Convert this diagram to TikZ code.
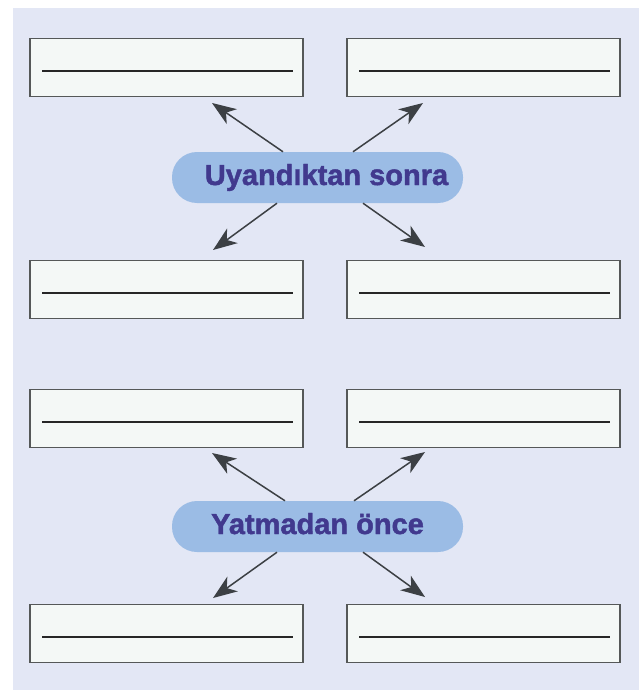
\documentclass[tikz,border=0pt]{standalone}
\usepackage{fontspec}
\setmainfont{Liberation Sans}
\newfontfamily\pillfont[FakeBold=1.6]{Liberation Sans Bold}
\usetikzlibrary{arrows.meta}
\definecolor{panelbg}{HTML}{E3E7F5}
\definecolor{boxfill}{HTML}{F4F8F6}
\definecolor{boxline}{HTML}{555858}
\definecolor{pillfill}{HTML}{9BBCE5}
\definecolor{pilltext}{HTML}{41398E}
\definecolor{arrowcol}{HTML}{3C4044}
\tikzset{
  answerbox/.style={draw=boxline, line width=1.2pt, fill=boxfill, minimum width=273pt, minimum height=58pt, inner sep=0pt},
  writeline/.style={draw=black!85, line width=2pt},
  pill/.style={fill=pillfill, rounded corners=25pt, minimum width=291pt, minimum height=51pt, inner sep=0pt,
    text=pilltext, font=\fontsize{29}{29}\pillfont, text height=21pt, text depth=6pt},
  arr/.style={draw=arrowcol, line width=1.5pt, -{Stealth[length=24pt, width=18pt, inset=7pt]}}
}
\begin{document}
\begin{tikzpicture}[x=1pt,y=-1pt]
\useasboundingbox (0,0) rectangle (639,690);
\fill[white] (0,0) rectangle (639,690);
\fill[panelbg] (13,8) rectangle (639,690);

% answer boxes
\node[answerbox] (L1) at (166.5,67.5) {};
\node[answerbox] (R1) at (483.5,67.5) {};
\node[answerbox] (L2) at (166.5,289.5) {};
\node[answerbox] (R2) at (483.5,289.5) {};
\node[answerbox] (L3) at (166.5,418.5) {};
\node[answerbox] (R3) at (483.5,418.5) {};
\node[answerbox] (L4) at (166.5,633.5) {};
\node[answerbox] (R4) at (483.5,633.5) {};

\foreach \b in {L1,R1,L2,R2,L3,R3,L4,R4}{
  \draw[writeline] ([xshift=13pt,yshift=-3.5pt]\b.west) -- ([xshift=-11pt,yshift=-3.5pt]\b.east);
}

% labels
\node[pill] (P1) at (317.5,177.5) {\hspace*{18pt}Uyandıktan sonra};
\node[pill] (P2) at (317.5,526.5) {Yatmadan önce};

% arrow tips
\coordinate (t1) at (212,103);
\coordinate (t2) at (423,103);
\coordinate (t3) at (213,250);
\coordinate (t4) at (425,247);
\coordinate (t5) at (212,453);
\coordinate (t6) at (425,452);
\coordinate (t7) at (213,598);
\coordinate (t8) at (425,597);

\draw[arr] ([xshift=-34.5pt]P1.north) -- (t1);
\draw[arr] ([xshift=35.5pt]P1.north) -- (t2);
\draw[arr] ([xshift=-40.5pt]P1.south) -- (t3);
\draw[arr] ([xshift=45.5pt]P1.south) -- (t4);

\draw[arr] ([xshift=-32.5pt]P2.north) -- (t5);
\draw[arr] ([xshift=36.5pt]P2.north) -- (t6);
\draw[arr] ([xshift=-40.5pt]P2.south) -- (t7);
\draw[arr] ([xshift=45.5pt]P2.south) -- (t8);
\end{tikzpicture}
\end{document}
